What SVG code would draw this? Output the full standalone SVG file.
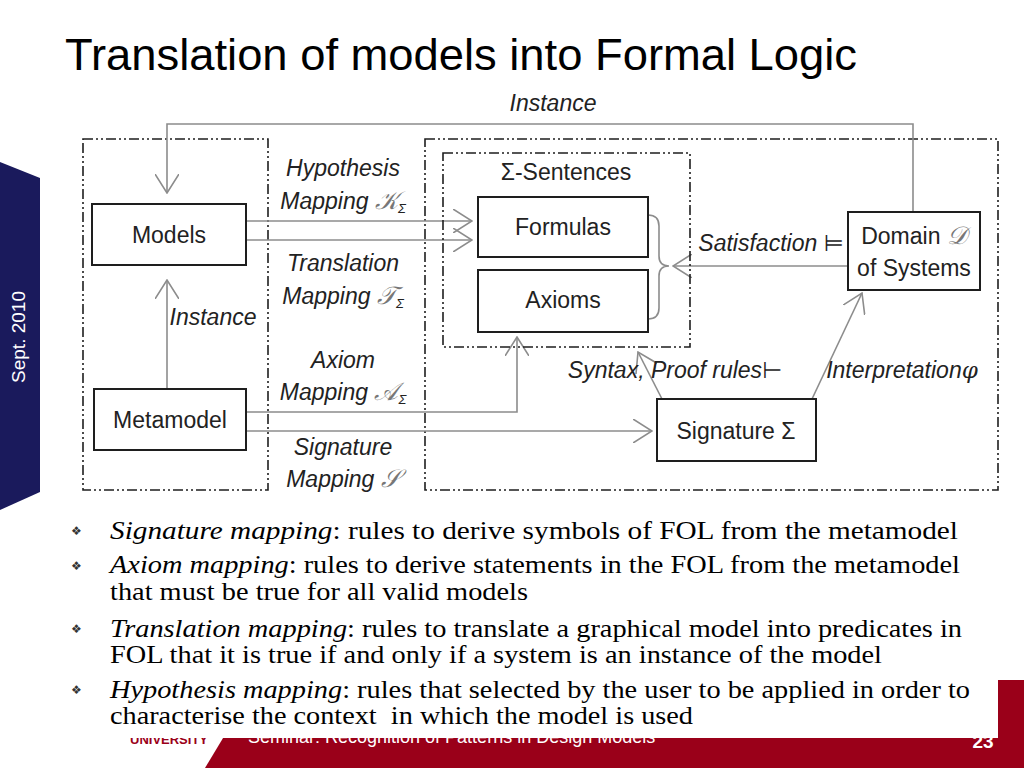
<svg xmlns="http://www.w3.org/2000/svg" width="1024" height="768" viewBox="0 0 1024 768">
<style>
.box{fill:#fff;stroke:#1e1e1e;stroke-width:2}
.dd{fill:none;stroke:#1e1e1e;stroke-width:1.6;stroke-dasharray:10 3 2 3 2 3}
.con{fill:none;stroke:#8c8c8c;stroke-width:1.6}
.lbl{font-family:"Liberation Sans",Arial,sans-serif;font-size:23px;fill:#222;text-anchor:middle}
.it{font-style:italic}
.cal{font-family:"DejaVu Serif",serif;font-style:italic;fill:#777;font-size:25px}
.sub{font-size:13px}
.bul{font-family:"Liberation Serif","Times New Roman",serif;font-size:26px;fill:#000}
.dia{font-family:"DejaVu Sans",sans-serif;font-size:12px;fill:#333}
</style>
<defs>
<marker id="oa" markerUnits="userSpaceOnUse" viewBox="0 0 20 24" refX="19" refY="12" markerWidth="20" markerHeight="24" orient="auto"><path d="M0,0 L19,12 L0,24" fill="none" stroke="#8c8c8c" stroke-width="1.6"/></marker>
</defs>
<rect width="1024" height="768" fill="#fff"/>
<g id="sidebar">
<polygon points="0,162 40,178 40,492 0,510" fill="#1a1a5c"/>
<text transform="translate(25,337) rotate(-90)" text-anchor="middle" font-family="Liberation Sans,Arial,sans-serif" font-size="19" fill="#fff">Sept. 2010</text>
</g>
<text id="title" x="65" y="70" font-family="Liberation Sans,Arial,sans-serif" font-size="45" fill="#000" textLength="792" lengthAdjust="spacingAndGlyphs">Translation of models into Formal Logic</text>

<g id="frames">
<rect id="left-frame" class="dd" x="83" y="139" width="185" height="351"/>
<rect id="right-frame" class="dd" x="425" y="139" width="573" height="351"/>
</g>

<g id="connectors">
<path class="con" d="M913,212 V124 H167 V193" marker-end="url(#oa)"/>
<path class="con" d="M246,221 H472" marker-end="url(#oa)"/>
<path class="con" d="M246,240 H472" marker-end="url(#oa)"/>
<path class="con" d="M167,389 V280" marker-end="url(#oa)"/>
<path class="con" d="M246,412 H517 V337" marker-end="url(#oa)"/>
<path class="con" d="M246,431 H652" marker-end="url(#oa)"/>
<path class="con" d="M848,266 H673" marker-end="url(#oa)"/>
<path class="con" d="M662,399 L638,352" marker-end="url(#oa)"/>
<path class="con" d="M812,399 L862,293" marker-end="url(#oa)"/>
<path class="con" d="M648,215 Q659,215 659,226 L659,256 Q659,266 669,266 Q659,266 659,276 L659,308 Q659,319 648,319"/>
<text class="lbl it" x="553" y="111">Instance</text>
<text class="lbl it" x="213" y="325">Instance</text>
<text class="lbl it" x="343" y="176">Hypothesis</text>
<text class="lbl it" x="343" y="209">Mapping <tspan class="cal">𝒦</tspan><tspan class="sub" dy="4">Σ</tspan></text>
<text class="lbl it" x="343" y="271">Translation</text>
<text class="lbl it" x="343" y="304">Mapping <tspan class="cal">𝒯</tspan><tspan class="sub" dy="4">Σ</tspan></text>
<text class="lbl it" x="343" y="368">Axiom</text>
<text class="lbl it" x="343" y="400">Mapping <tspan class="cal">𝒜</tspan><tspan class="sub" dy="4">Σ</tspan></text>
<text class="lbl it" x="343" y="455">Signature</text>
<text class="lbl it" x="343" y="487">Mapping <tspan class="cal">𝒮</tspan></text>
<text class="lbl it" x="771" y="251">Satisfaction <tspan font-style="normal" font-family="DejaVu Sans,sans-serif">⊨</tspan></text>
<text class="lbl it" x="675" y="378">Syntax, Proof rules<tspan font-style="normal" font-family="DejaVu Sans,sans-serif">⊢</tspan></text>
<text class="lbl it" x="902" y="378">Interpretation<tspan font-family="DejaVu Serif,serif">φ</tspan></text>
</g>

<g id="models"><rect class="box" x="92" y="204" width="154" height="61"/><text class="lbl" x="169" y="243">Models</text></g>
<g id="metamodel"><rect class="box" x="94" y="389" width="152" height="61"/><text class="lbl" x="170" y="428">Metamodel</text></g>
<g id="sentences"><rect class="dd" x="443" y="153" width="247" height="194"/><text class="lbl" x="566" y="180">Σ-Sentences</text></g>
<g id="formulas"><rect class="box" x="478" y="197" width="170" height="60"/><text class="lbl" x="563" y="235">Formulas</text></g>
<g id="axioms"><rect class="box" x="478" y="270" width="170" height="62"/><text class="lbl" x="563" y="308">Axioms</text></g>
<g id="domain"><rect class="box" x="848" y="212" width="132" height="78"/><text class="lbl" x="914" y="244">Domain <tspan class="cal">𝒟</tspan></text><text class="lbl" x="914" y="276">of Systems</text></g>
<g id="signature"><rect class="box" x="657" y="399" width="159" height="62"/><text class="lbl" x="736" y="439">Signature Σ</text></g>

<g id="footer">
<polygon points="258,680 1024,680 1024,768 205,768" fill="#9a0019"/>
<text x="130" y="744" font-family="Liberation Sans,Arial,sans-serif" font-size="13" font-weight="bold" fill="#9a0019">UNIVERSITY</text>
<text x="248" y="743" font-family="Liberation Sans,Arial,sans-serif" font-size="18" fill="#fff">Seminar: Recognition of Patterns in Design Models</text>
<text x="983" y="748" text-anchor="middle" font-family="Liberation Sans,Arial,sans-serif" font-size="19" font-weight="bold" fill="#fff">23</text>
<rect x="60" y="660" width="938" height="78" fill="#fff"/>
</g>

<g id="bullets">
<text class="dia" x="71" y="535">❖</text>
<text class="bul" x="110" y="539" textLength="848" lengthAdjust="spacingAndGlyphs"><tspan font-style="italic">Signature mapping</tspan>: rules to derive symbols of FOL from the metamodel</text>
<text class="dia" x="71" y="570">❖</text>
<text class="bul" x="110" y="573" textLength="850" lengthAdjust="spacingAndGlyphs"><tspan font-style="italic">Axiom mapping</tspan>: rules to derive statements in the FOL from the metamodel</text>
<text class="bul" x="110" y="600" textLength="418" lengthAdjust="spacingAndGlyphs">that must be true for all valid models</text>
<text class="dia" x="71" y="633">❖</text>
<text class="bul" x="110" y="637" textLength="852" lengthAdjust="spacingAndGlyphs"><tspan font-style="italic">Translation mapping</tspan>: rules to translate a graphical model into predicates in</text>
<text class="bul" x="110" y="663" textLength="772" lengthAdjust="spacingAndGlyphs">FOL that it is true if and only if a system is an instance of the model</text>
<text class="dia" x="71" y="694">❖</text>
<text class="bul" x="110" y="698" textLength="860" lengthAdjust="spacingAndGlyphs"><tspan font-style="italic">Hypothesis mapping</tspan>: rules that selected by the user to be applied in order to</text>
<text class="bul" x="110" y="724" xml:space="preserve" textLength="583" lengthAdjust="spacingAndGlyphs">characterise the context  in which the model is used</text>
</g>
</svg>
